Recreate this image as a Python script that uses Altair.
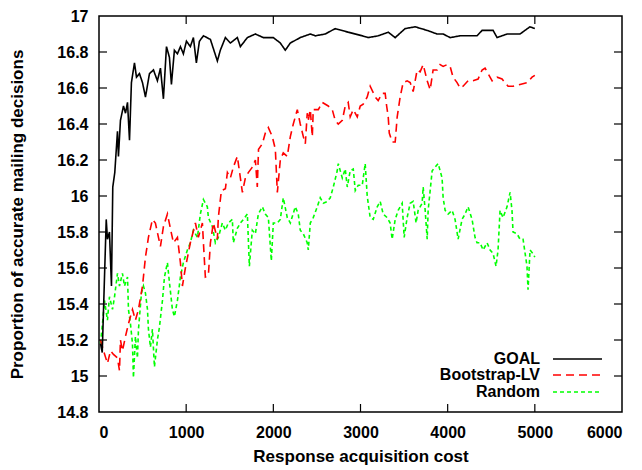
import altair as alt
import pandas as pd

SERIES = ["GOAL", "Bootstrap-LV", "Random"]
COLORS = ["#000000", "#ff0000", "#00ff00"]
DASHES = [[1, 0], [8, 5], [4, 3]]

goal_x = [17, 37, 83, 97, 120, 143, 158, 181, 212, 223, 246, 281, 304, 327, 350, 372, 407, 430,
          464, 499, 533, 579, 625, 670, 705, 739, 774, 808, 831, 865, 900, 934, 968, 1003, 1048,
          1083, 1117, 1152, 1198, 1278, 1358, 1392, 1450, 1507, 1587, 1622, 1702, 1794, 1885,
          2000, 2080, 2137, 2195, 2309, 2424, 2481, 2596, 2710, 2859, 3020, 3088, 3203, 3318,
          3398, 3512, 3627, 3765, 3879, 3948, 4028, 4143, 4337, 4395, 4521, 4567, 4681, 4830,
          4944, 5000]
goal_y = [15.18, 15.13, 15.87, 15.76, 15.80, 15.50, 16.05, 16.13, 16.36, 16.22, 16.42, 16.50,
          16.46, 16.52, 16.31, 16.63, 16.74, 16.66, 16.68, 16.63, 16.55, 16.68, 16.70, 16.64,
          16.71, 16.54, 16.83, 16.77, 16.62, 16.81, 16.79, 16.83, 16.79, 16.86, 16.83, 16.88,
          16.74, 16.86, 16.89, 16.87, 16.75, 16.81, 16.88, 16.85, 16.88, 16.83, 16.88, 16.90,
          16.88, 16.88, 16.85, 16.81, 16.85, 16.88, 16.90, 16.89, 16.90, 16.93, 16.91, 16.89,
          16.88, 16.89, 16.91, 16.88, 16.93, 16.94, 16.92, 16.90, 16.90, 16.88, 16.89, 16.89,
          16.92, 16.92, 16.88, 16.90, 16.90, 16.94, 16.93]

boot_x = [17, 52, 97, 132, 166, 212, 235, 246, 269, 304, 338, 384, 418, 453, 499, 533, 567, 613,
          647, 682, 705, 739, 785, 819, 854, 900, 934, 957, 991, 1048, 1106, 1140, 1163, 1186,
          1198, 1220, 1255, 1278, 1312, 1358, 1369, 1404, 1450, 1473, 1507, 1541, 1587, 1622,
          1645, 1679, 1713, 1759, 1794, 1816, 1830, 1874, 1908, 1943, 1988, 2023, 2046, 2080,
          2114, 2160, 2195, 2229, 2275, 2309, 2344, 2367, 2389, 2401, 2424, 2447, 2458, 2516,
          2561, 2630, 2676, 2710, 2745, 2791, 2825, 2859, 2882, 2917, 2963, 2997, 3031, 3077,
          3111, 3169, 3203, 3249, 3283, 3300, 3318, 3330, 3363, 3398, 3421, 3455, 3489, 3535,
          3570, 3604, 3650, 3684, 3719, 3765, 3799, 3833, 3879, 3913, 3948, 3994, 4028, 4062,
          4108, 4143, 4177, 4234, 4291, 4349, 4395, 4429, 4464, 4510, 4567, 4624, 4658, 4693,
          4750, 4830, 4910, 4968, 5000]
boot_y = [15.20, 15.14, 15.07, 15.14, 15.12, 15.10, 15.03, 15.20, 15.14, 15.22, 15.29, 15.37,
          15.31, 15.37, 15.50, 15.66, 15.77, 15.87, 15.85, 15.77, 15.72, 15.83, 15.90, 15.82,
          15.74, 15.77, 15.63, 15.50, 15.60, 15.74, 15.85, 15.77, 15.81, 15.85, 15.74, 15.55,
          15.56, 15.74, 15.85, 15.76, 15.88, 16.03, 16.04, 16.13, 16.10, 16.16, 16.22, 16.10,
          16.02, 16.10, 16.13, 16.16, 16.20, 16.05, 16.26, 16.29, 16.35, 16.38, 16.33, 16.26,
          16.02, 16.20, 16.24, 16.22, 16.33, 16.40, 16.48, 16.40, 16.33, 16.29, 16.46, 16.42,
          16.48, 16.33, 16.48, 16.48, 16.52, 16.50, 16.48, 16.42, 16.40, 16.42, 16.50, 16.52,
          16.44, 16.48, 16.44, 16.50, 16.51, 16.55, 16.61, 16.55, 16.53, 16.57, 16.57, 16.50,
          16.44, 16.35, 16.30, 16.30, 16.44, 16.55, 16.63, 16.64, 16.63, 16.58, 16.70, 16.69,
          16.73, 16.64, 16.59, 16.70, 16.70, 16.73, 16.72, 16.73, 16.72, 16.66, 16.63, 16.60,
          16.61, 16.64, 16.64, 16.65, 16.70, 16.71, 16.68, 16.64, 16.66, 16.65, 16.63, 16.61,
          16.61, 16.62, 16.63, 16.66, 16.67]

rand_x = [17, 40, 63, 97, 120, 155, 178, 212, 235, 269, 292, 327, 338, 361, 384, 395, 418, 441,
          453, 487, 510, 533, 556, 567, 590, 613, 636, 670, 693, 728, 751, 785, 808, 842, 865,
          900, 934, 968, 1014, 1048, 1083, 1129, 1163, 1198, 1243, 1255, 1301, 1335, 1369, 1415,
          1450, 1484, 1530, 1541, 1587, 1622, 1656, 1702, 1725, 1759, 1794, 1828, 1874, 1908,
          1943, 1977, 2000, 2046, 2080, 2114, 2160, 2195, 2252, 2286, 2309, 2344, 2389, 2401,
          2424, 2458, 2504, 2538, 2573, 2619, 2653, 2688, 2733, 2745, 2791, 2825, 2848, 2882,
          2917, 2940, 2974, 3020, 3054, 3077, 3111, 3146, 3192, 3226, 3260, 3306, 3340, 3363,
          3398, 3432, 3478, 3501, 3535, 3570, 3604, 3638, 3661, 3707, 3719, 3742, 3765, 3776,
          3822, 3856, 3891, 3936, 3948, 3971, 4005, 4051, 4085, 4120, 4165, 4200, 4234, 4280,
          4314, 4337, 4372, 4406, 4452, 4487, 4521, 4555, 4578, 4601, 4635, 4681, 4716, 4738,
          4750, 4796, 4830, 4865, 4910, 4922, 4945, 4979, 5000]
rand_y = [15.18, 15.29, 15.42, 15.31, 15.44, 15.37, 15.44, 15.57, 15.50, 15.57, 15.50, 15.55,
          15.37, 15.29, 15.18, 14.99, 15.22, 15.10, 15.26, 15.46, 15.50, 15.46, 15.37, 15.26,
          15.16, 15.26, 15.05, 15.20, 15.27, 15.42, 15.55, 15.63, 15.52, 15.37, 15.33, 15.42,
          15.55, 15.63, 15.70, 15.74, 15.81, 15.77, 15.90, 15.98, 15.94, 15.88, 15.83, 15.74,
          15.77, 15.85, 15.81, 15.85, 15.87, 15.74, 15.82, 15.85, 15.87, 15.90, 15.61, 15.81,
          15.79, 15.90, 15.94, 15.90, 15.88, 15.64, 15.85, 15.85, 15.87, 15.99, 15.88, 15.85,
          15.94, 15.90, 15.81, 15.79, 15.74, 15.70, 15.85, 15.88, 15.94, 15.99, 15.96, 15.97,
          15.99, 16.05, 16.14, 16.18, 16.10, 16.15, 16.05, 16.14, 16.15, 16.03, 16.06, 16.06,
          16.18, 16.00, 15.88, 15.87, 15.94, 15.97, 15.90, 15.88, 15.85, 15.76, 15.87, 15.92,
          15.96, 15.77, 15.88, 15.96, 15.97, 15.85, 15.92, 15.96, 16.05, 15.92, 15.76, 15.92,
          16.14, 16.16, 16.18, 16.10, 15.99, 15.92, 15.90, 15.92, 15.87, 15.76, 15.87, 15.90,
          15.94, 15.87, 15.77, 15.74, 15.74, 15.70, 15.74, 15.70, 15.68, 15.61, 15.70, 15.92,
          15.88, 15.94, 16.02, 15.92, 15.80, 15.79, 15.76, 15.76, 15.61, 15.48, 15.70, 15.68,
          15.66]

X_TICKS = [0, 1000, 2000, 3000, 4000, 5000, 6000]
Y_TICKS = [14.8, 15.0, 15.2, 15.4, 15.6, 15.8, 16.0, 16.2, 16.4, 16.6, 16.8, 17.0]

W, H = 523, 396
FONT = "Liberation Sans"

xs = alt.Scale(domain=[0, 6000], nice=False, zero=False)
ys = alt.Scale(domain=[14.8, 17], nice=False, zero=False)

XAXIS = alt.Axis(values=X_TICKS, title="Response acquisition cost", ticks=False, domain=False,
                 grid=False, labelPadding=12, titlePadding=8, format="d", labelOverlap=False)
YAXIS = alt.Axis(values=Y_TICKS, title="Proportion of accurate mailing decisions", ticks=False,
                 domain=False, grid=False, labelPadding=11, titlePadding=30, labelOverlap=False,
                 labelExpr="abs(datum.value - round(datum.value)) < 0.001 ? format(datum.value, 'd') : format(datum.value, '.1f')")

def X():
    return alt.X("x:Q", scale=xs, axis=XAXIS)

def Y():
    return alt.Y("y:Q", scale=ys, axis=YAXIS)

def series_df(xv, yv, name):
    return pd.DataFrame({"x": xv, "y": yv, "series": name})

def line_layer(df, color, dash):
    return alt.Chart(df).mark_line(color=color, strokeDash=dash, strokeWidth=1.6,
                                   clip=True).encode(x=X(), y=Y())

rand_df = series_df(rand_x, rand_y, SERIES[2])
boot_df = series_df(boot_x, boot_y, SERIES[1])
goal_df = series_df(goal_x, goal_y, SERIES[0])

l_rand = line_layer(rand_df, COLORS[2], DASHES[2])
l_boot = line_layer(boot_df, COLORS[1], DASHES[1])
l_goal = line_layer(goal_df, COLORS[0], DASHES[0])

# inward tick marks (gnuplot style), mirrored on all four sides
xt = pd.DataFrame({"x": X_TICKS[1:-1]})
yt = pd.DataFrame({"y": Y_TICKS[1:-1]})
tick_b = alt.Chart(xt).mark_rule(color="black", strokeWidth=1.2).encode(
    x=X(), y=alt.value(H), y2=alt.value(H - 8))
tick_t = alt.Chart(xt).mark_rule(color="black", strokeWidth=1.2).encode(
    x=X(), y=alt.value(0), y2=alt.value(8))
tick_l = alt.Chart(yt).mark_rule(color="black", strokeWidth=1.2).encode(
    y=Y(), x=alt.value(0), x2=alt.value(8))
tick_r = alt.Chart(yt).mark_rule(color="black", strokeWidth=1.2).encode(
    y=Y(), x=alt.value(W), x2=alt.value(W - 8))

# legend (drawn manually, labels to the left of the line samples)
leg_rows = [343, 359, 376]
legend_layers = []
for name, color, dash, yy in zip(SERIES, COLORS, DASHES, leg_rows):
    ldf = pd.DataFrame({"label": [name]})
    legend_layers.append(alt.Chart(ldf).mark_text(
        align="right", baseline="middle", font=FONT, fontWeight="bold", fontSize=16,
        color="black").encode(text="label:N", x=alt.value(441), y=alt.value(yy)))
    legend_layers.append(alt.Chart(ldf).mark_rule(
        color=color, strokeDash=dash, strokeWidth=1.6).encode(
        x=alt.value(454), x2=alt.value(503), y=alt.value(yy)))

chart = alt.layer(
    l_rand, l_boot, l_goal, tick_b, tick_t, tick_l, tick_r, *legend_layers
).properties(
    width=W, height=H,
    autosize=alt.AutoSizeParams(type="none"),
    padding={"left": 91, "top": 8, "right": 12, "bottom": 58},
).configure_view(
    stroke="black", strokeWidth=1.5
).configure_axis(
    labelFont=FONT, labelFontWeight="bold", labelFontSize=16, labelColor="black",
    titleFont=FONT, titleFontWeight="bold", titleFontSize=17, titleColor="black",
    labelOverlap=False,
)

chart.save("out.html", embed_options={"renderer": "svg", "actions": False})
